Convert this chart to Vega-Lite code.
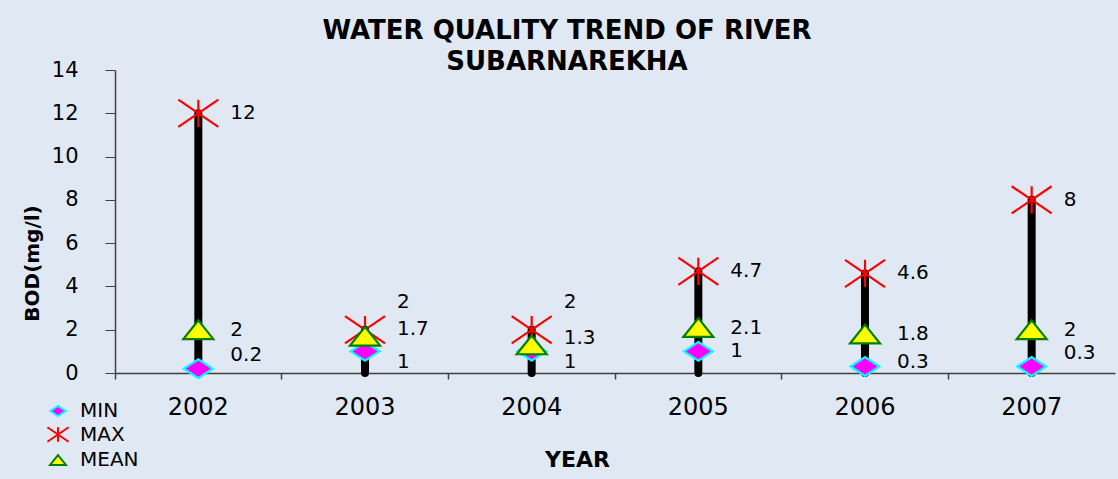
{
  "$schema": "https://vega.github.io/schema/vega-lite/v6.json",
  "width": 1000,
  "height": 303,
  "autosize": {"type": "none"},
  "padding": {"left": 115, "top": 70, "right": 3, "bottom": 106},
  "background": "#e0e9f3",
  "config": {
    "view": {"stroke": null},
    "font": "DejaVu Sans",
    "legend": {
      "labelFont": "DejaVu Sans",
      "labelFontSize": 20,
      "labelColor": "#000000",
      "labelOffset": 10,
      "rowPadding": 1.5,
      "symbolSize": 450,
      "symbolStrokeWidth": 2,
      "padding": 0
    }
  },
  "title": {
    "text": ["WATER QUALITY TREND OF RIVER", "SUBARNAREKHA"],
    "font": "DejaVu Sans",
    "fontSize": 26,
    "fontWeight": "bold",
    "color": "#000000",
    "anchor": "middle",
    "frame": "group",
    "dx": -48,
    "lineHeight": 31,
    "offset": -16
  },
  "data": {
    "values": [
      {"year": "2002", "MIN": 0.2, "MAX": 12, "MEAN": 2},
      {"year": "2003", "MIN": 1, "MAX": 2, "MEAN": 1.7},
      {"year": "2004", "MIN": 1, "MAX": 2, "MEAN": 1.3},
      {"year": "2005", "MIN": 1, "MAX": 4.7, "MEAN": 2.1},
      {"year": "2006", "MIN": 0.3, "MAX": 4.6, "MEAN": 1.8},
      {"year": "2007", "MIN": 0.3, "MAX": 8, "MEAN": 2}
    ]
  },
  "resolve": {"axis": {"x": "independent"}},
  "layer": [
    {
      "mark": {"type": "rule", "strokeWidth": 8, "strokeCap": "round", "color": "#000000"},
      "encoding": {
        "x": {
          "field": "year",
          "type": "ordinal",
          "scale": {"type": "band", "paddingInner": 0, "paddingOuter": 0},
          "axis": {
            "title": "YEAR",
            "orient": "bottom",
            "labelAngle": 0,
            "ticks": false,
            "labelFont": "DejaVu Sans",
            "labelFontSize": 24,
            "labelPadding": 22,
            "labelColor": "#000000",
            "domainColor": "#404040",
            "domainWidth": 1.5,
            "titleFont": "DejaVu Sans",
            "titleFontSize": 22,
            "titleFontWeight": "bold",
            "titleColor": "#000000",
            "titleX": 462,
            "titleY": 86,
            "titleBaseline": "middle",
            "titleAlign": "center"
          }
        },
        "y": {
          "field": "MAX",
          "type": "quantitative",
          "scale": {"domain": [0, 14], "nice": false},
          "axis": {
            "title": "BOD(mg/l)",
            "values": [0, 2, 4, 6, 8, 10, 12, 14],
            "grid": false,
            "tickSize": 10,
            "tickColor": "#404040",
            "domainColor": "#404040",
            "domainWidth": 1.5,
            "labelFont": "DejaVu Sans",
            "labelFontSize": 21,
            "labelPadding": 27,
            "labelColor": "#000000",
            "titleFont": "DejaVu Sans",
            "titleFontSize": 20,
            "titleFontWeight": "bold",
            "titleColor": "#000000",
            "titleAngle": -90,
            "titleX": -83,
            "titleY": 193,
            "titleBaseline": "middle",
            "titleAlign": "center"
          }
        },
        "y2": {"datum": 0}
      }
    },
    {
      "transform": [{"fold": ["MAX", "MIN", "MEAN"], "as": ["stat", "value"]}],
      "mark": {"type": "point", "opacity": 1, "strokeWidth": 2.2, "size": 1600},
      "encoding": {
        "x": {"field": "year", "type": "ordinal", "axis": null},
        "y": {"field": "value", "type": "quantitative"},
        "shape": {
          "field": "stat",
          "type": "nominal",
          "scale": {
            "domain": ["MIN", "MAX", "MEAN"],
            "range": [
              "M-0.72,0L0,-0.47L0.72,0L0,0.47Z",
              "M-1,-0.68L1,0.68M-1,0.68L1,-0.68M0,-0.68L0,0.68",
              "M0,-0.47L0.75,0.47L-0.75,0.47Z"
            ]
          },
          "legend": {
            "title": null,
            "orient": "none",
            "legendX": -69,
            "legendY": 329,
            "labelFontSize": 20,
            "labelColor": "#000000"
          }
        },
        "fill": {
          "field": "stat",
          "type": "nominal",
          "scale": {"domain": ["MIN", "MAX", "MEAN"], "range": ["#ff00ff", "transparent", "#ffff00"]},
          "legend": {"title": null, "orient": "none", "legendX": -69, "legendY": 329, "labelFontSize": 20}
        },
        "stroke": {
          "field": "stat",
          "type": "nominal",
          "scale": {"domain": ["MIN", "MAX", "MEAN"], "range": ["#00ffff", "#ff0000", "#008000"]},
          "legend": {"title": null, "orient": "none", "legendX": -69, "legendY": 329, "labelFontSize": 20}
        }
      }
    },
    {
      "mark": {"type": "text", "align": "left", "baseline": "middle", "dx": 32, "fontSize": 20, "color": "#000000",
               "dy": {"expr": "(datum.MAX - datum.MEAN) < 1 ? -28 : 0"}},
      "encoding": {
        "x": {
          "field": "year",
          "type": "ordinal",
          "axis": {
            "orient": "bottom",
            "bandPosition": 0,
            "labels": false,
            "title": null,
            "domain": false,
            "ticks": true,
            "tickSize": 6,
            "tickColor": "#404040",
            "tickWidth": 1.5
          }
        },
        "y": {"field": "MAX", "type": "quantitative"},
        "text": {"field": "MAX", "type": "nominal"}
      }
    },
    {
      "mark": {"type": "text", "align": "left", "baseline": "middle", "dx": 32, "fontSize": 20, "color": "#000000",
               "dy": {"expr": "(datum.MAX - datum.MEAN) < 1 ? -7 : 0"}},
      "encoding": {
        "x": {"field": "year", "type": "ordinal", "axis": null},
        "y": {"field": "MEAN", "type": "quantitative"},
        "text": {"field": "MEAN", "type": "nominal"}
      }
    },
    {
      "mark": {"type": "text", "align": "left", "baseline": "middle", "dx": 32, "fontSize": 20, "color": "#000000",
               "dy": {"expr": "(datum.MEAN - datum.MIN) < 1 ? 11 : (datum.MIN < 0.5 ? ((datum.MEAN - datum.MIN) < 1.6 ? -5 : -14) : 0)"}},
      "encoding": {
        "x": {"field": "year", "type": "ordinal", "axis": null},
        "y": {"field": "MIN", "type": "quantitative"},
        "text": {"field": "MIN", "type": "nominal"}
      }
    }
  ]
}
